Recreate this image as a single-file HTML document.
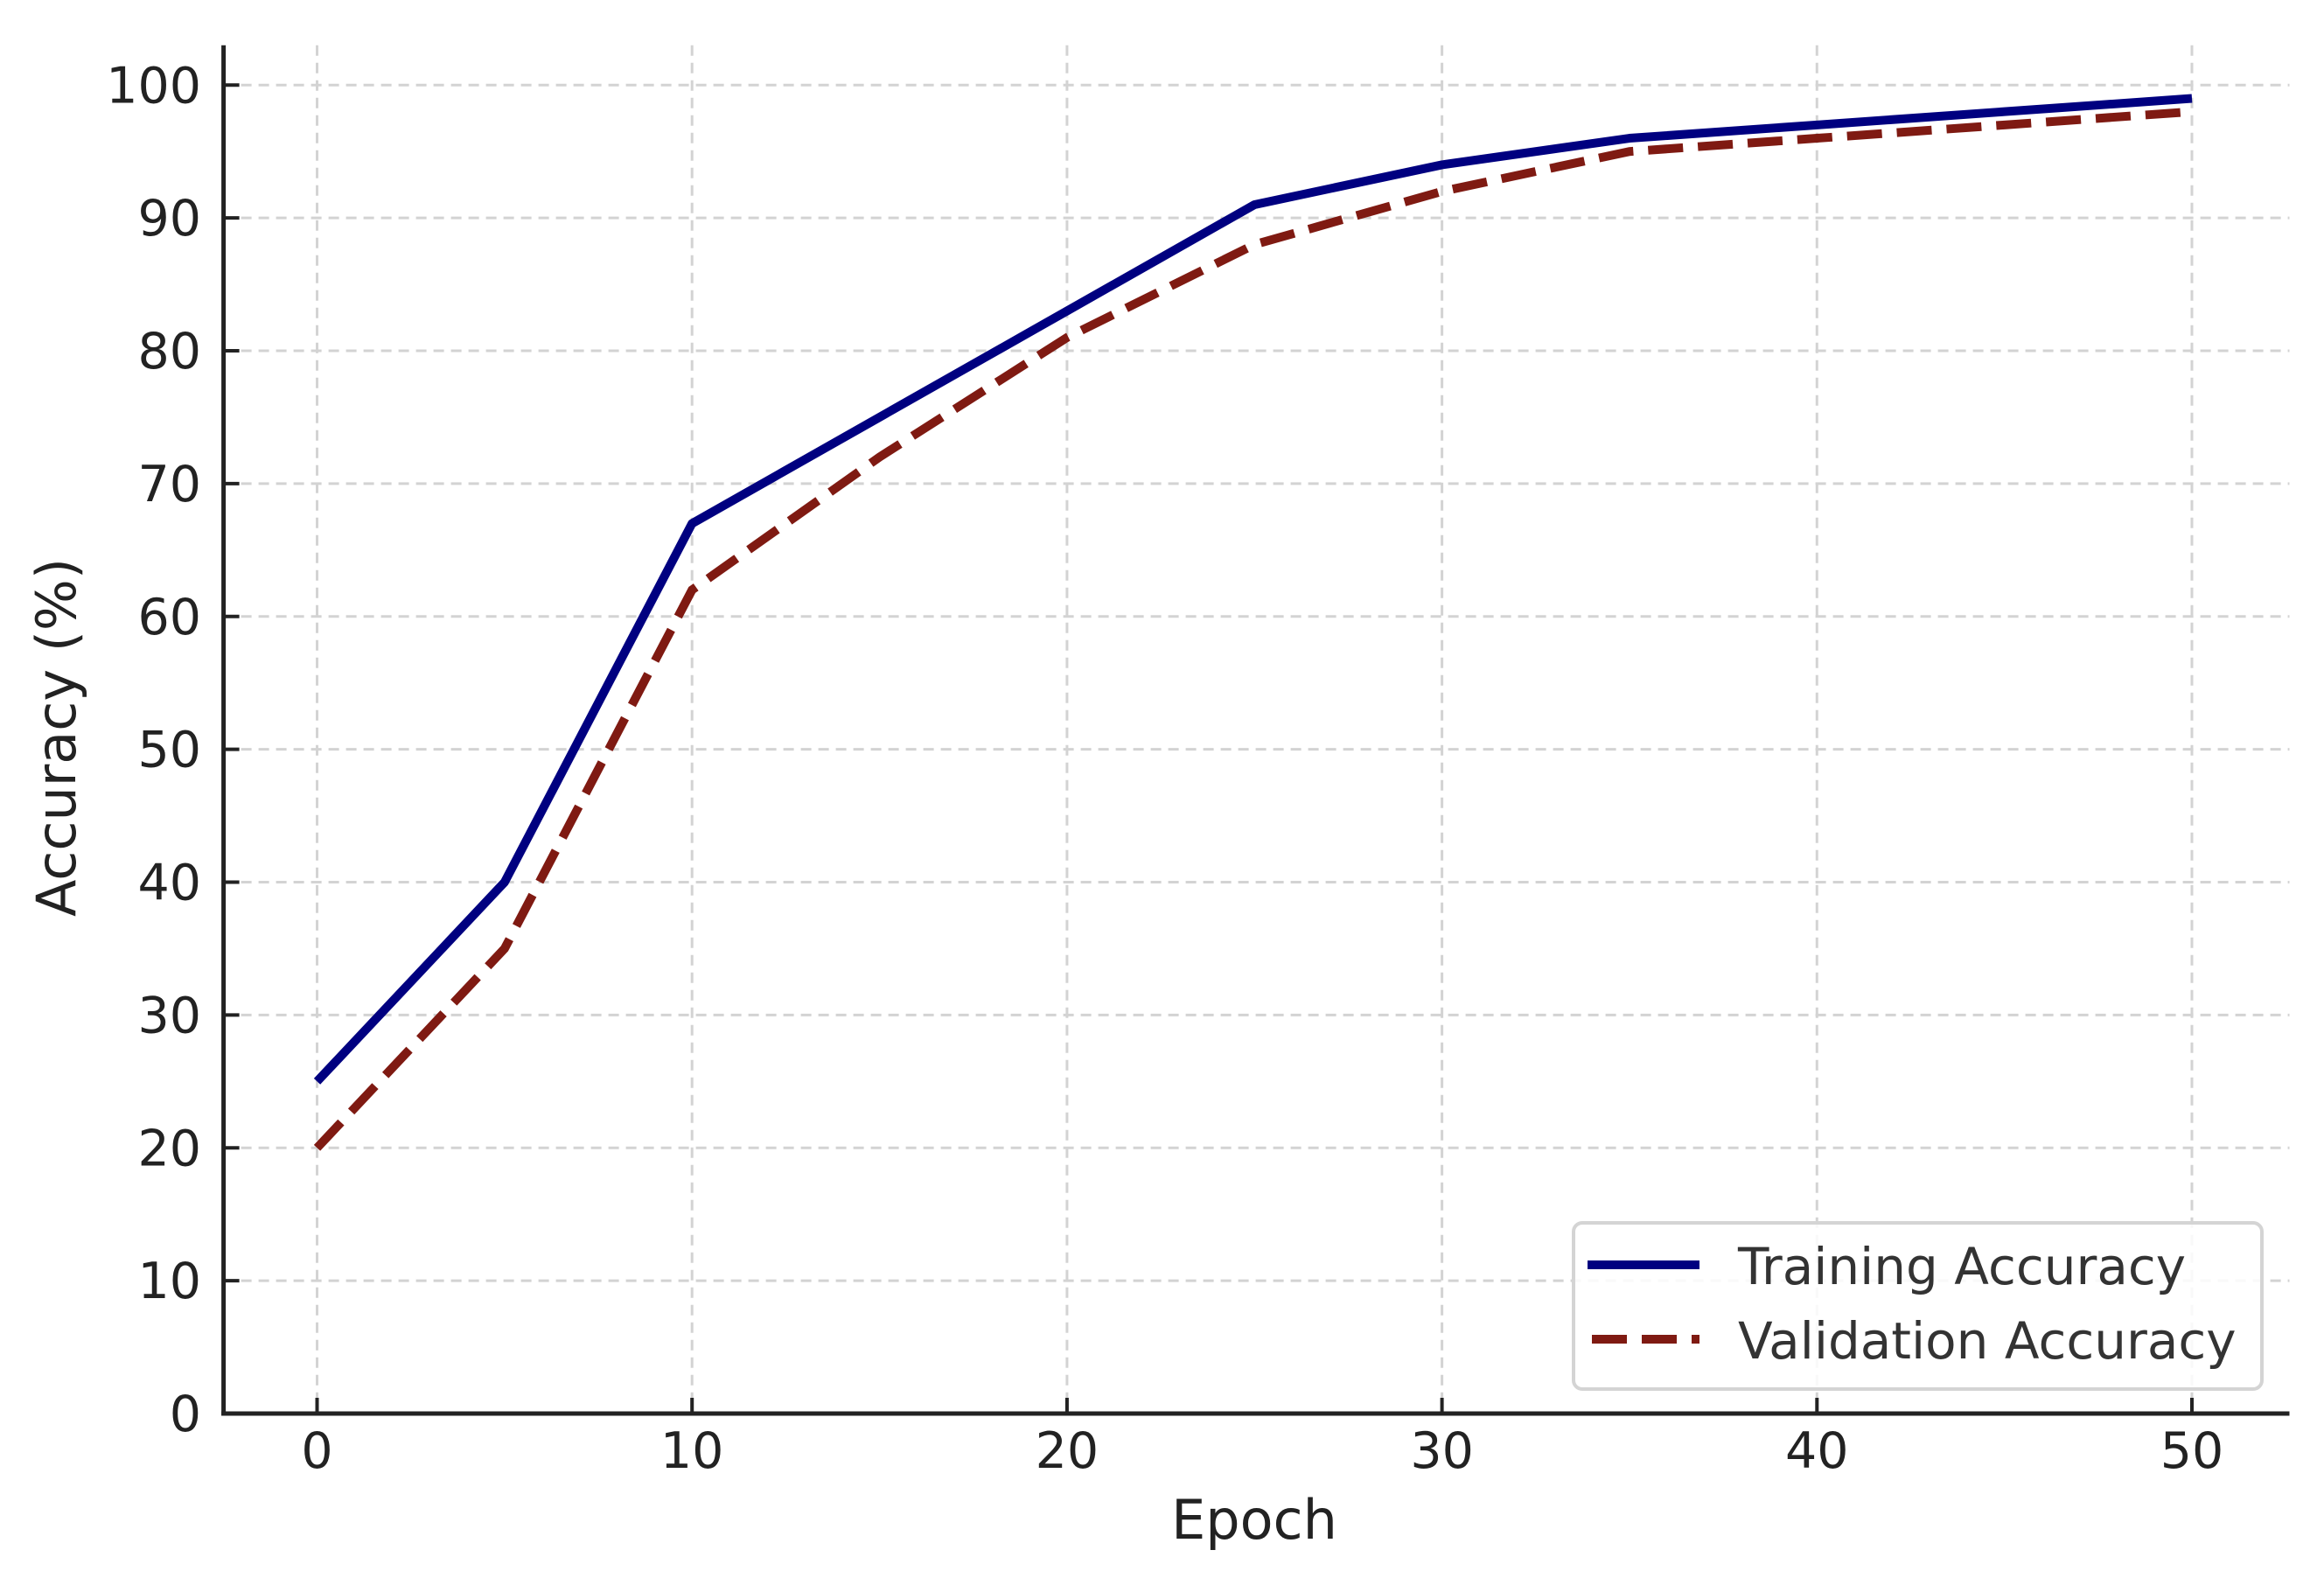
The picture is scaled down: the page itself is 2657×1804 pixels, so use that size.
<!DOCTYPE html>
<html><head><meta charset="utf-8"><style>
html,body{margin:0;padding:0;background:#fff}
svg{display:block;font-family:"DejaVu Sans","Liberation Sans",sans-serif}
</style></head><body>
<svg id="chart" width="2657" height="1804" viewBox="0 0 2657 1804">
<g id="grid"></g>
<g id="series"></g>
<g id="axes"></g>
<text x="1434" y="1759" font-size="62" text-anchor="middle" fill="#222">Epoch</text>
<text transform="translate(86,843) rotate(-90)" font-size="62" text-anchor="middle" fill="#222">Accuracy (%)</text>
<g>
<rect x="1799" y="1398" width="787" height="190" rx="10" fill="#fff" fill-opacity="0.85" stroke="#d4d4d4" stroke-width="4"/>
<line x1="1815" y1="1446" x2="1943" y2="1446" stroke="#000080" stroke-width="10"/>
<text x="1987" y="1468" font-size="58" fill="#333">Training Accuracy</text>
<line x1="1820" y1="1531" x2="1943" y2="1531" stroke="#7f1a12" stroke-width="10" stroke-dasharray="40,17"/>
<text x="1987" y="1553" font-size="58" fill="#333">Validation Accuracy</text>
</g>
</svg>
<script>
const epochs=[0,5,10,15,20,25,30,35,40,45,50];
const trainAcc=[25,40,67,75,83,91,94,96,97,98,99];
const valAcc=[20,35,62,72,81,88,92,95,96,97,98];
const xTicks=[0,10,20,30,40,50];
const yTicks=[0,10,20,30,40,50,60,70,80,90,100];
const NS="http://www.w3.org/2000/svg";
const L=255.6,R=2617.5,T=51.7,B=1616;
function xs(v){return 362.5+v*42.87;}
function ys(v){return 1616-v*15.187;}
function mk(tag,attrs,parent){const e=document.createElementNS(NS,tag);for(const k in attrs)e.setAttribute(k,attrs[k]);parent.appendChild(e);return e;}
const grid=document.getElementById('grid'),axes=document.getElementById('axes'),ser=document.getElementById('series');
xTicks.forEach(t=>{
 const g=mk('line',{x1:xs(t),x2:xs(t),y1:T,y2:B,stroke:'#d3d3d3','stroke-width':3,'stroke-dasharray':'12,8'},grid);
 
 
 const tk=mk('line',{x1:xs(t),x2:xs(t),y1:B,y2:B-18,stroke:'#222','stroke-width':4},axes);
 
 
 const lb=mk('text',{x:xs(t),y:1678,'font-size':57,'text-anchor':'middle',fill:'#222'},axes);
 lb.textContent=t;
 
 
});
yTicks.forEach(t=>{
 const g=mk('line',{x1:L,x2:R,y1:ys(t),y2:ys(t),stroke:'#d3d3d3','stroke-width':3,'stroke-dasharray':'12,8'},grid);
 
 
 const tk=mk('line',{x1:L,x2:L+18,y1:ys(t),y2:ys(t),stroke:'#222','stroke-width':4},axes);
 
 
 const lb=mk('text',{x:230,y:ys(t)+20,'font-size':57,'text-anchor':'end',fill:'#222'},axes);
 lb.textContent=t;
 
 
});
const sp1=mk('line',{x1:L,x2:L,y1:T,y2:B+2.5,stroke:'#222','stroke-width':5},axes);


const sp2=mk('line',{x1:L-2.5,x2:R,y1:B,y2:B,stroke:'#222','stroke-width':5},axes);


function pts(a){return epochs.map((e,i)=>xs(e)+','+ys(a[i])).join(' ');}
const vl=mk('polyline',{points:pts(valAcc),fill:'none',stroke:'#7f1a12','stroke-width':10,'stroke-dasharray':'40,17'},ser);


const tl=mk('polyline',{points:pts(trainAcc),fill:'none',stroke:'#000080','stroke-width':10,'stroke-linejoin':'round'},ser);


</script>
</body></html>
